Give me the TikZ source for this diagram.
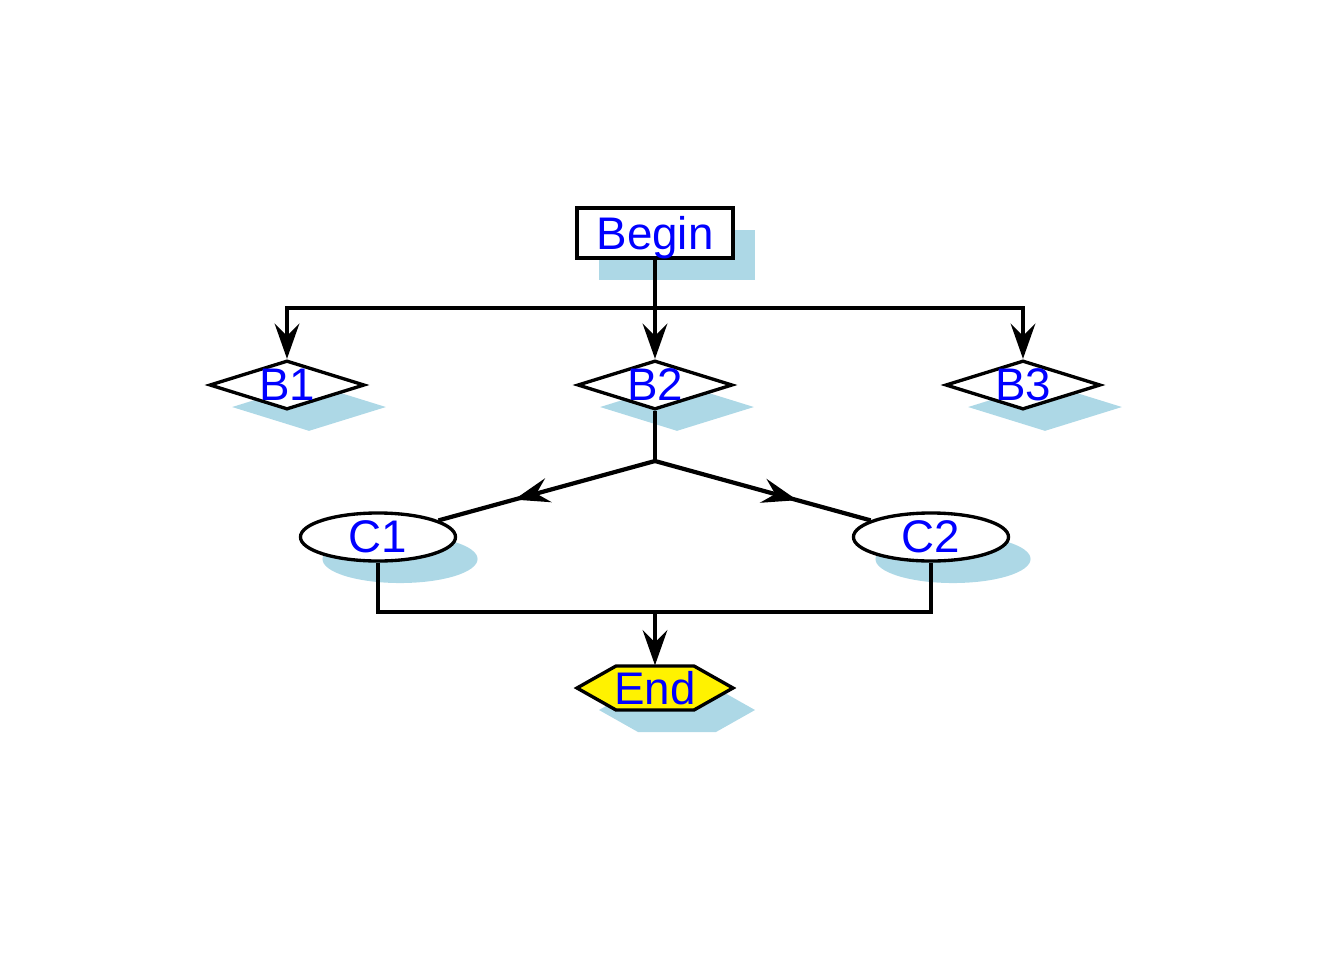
\documentclass[tikz,border=0pt]{standalone}
\usepackage{fontspec}
\newfontfamily\labfont{Liberation Sans}
\usetikzlibrary{shapes.geometric,arrows.meta,shadows,decorations.markings,calc}
\definecolor{shadowblue}{RGB}{173,216,230}
\newcommand\lbl[1]{\makebox[0pt]{\raisebox{-0.5\height}{#1}}}
\begin{document}
\begin{tikzpicture}[x=0.01cm,y=-0.01cm,
  >={Stealth[length=10pt,width=7pt,inset=3.5pt]},
  conn/.style={line width=1.2pt},
  lab/.style={inner sep=0pt, text height=0pt, text depth=0pt, text=blue,
    font=\labfont\fontsize{13}{15}\selectfont},
  base/.style={lab, draw, line width=0.95pt, fill=white,
    drop shadow={shadow xshift=0.22cm, shadow yshift=-0.22cm, fill=shadowblue, opacity=1}},
  boxnode/.style={base, rectangle, minimum width=1.56cm, minimum height=0.50cm},
  decnode/.style={base, diamond, aspect=3.16, minimum width=1.55cm, minimum height=0.49cm},
  ellnode/.style={base, ellipse, minimum width=1.55cm, minimum height=0.48cm},
  midarrow/.style={postaction={decorate,decoration={markings,mark=at position #1 with {\arrow{>}}}}}
]
\useasboundingbox (0,0) rectangle (1344,960);

\node[boxnode] (Begin) at (655,233) {\lbl{Begin}};
\node[decnode] (B1) at (287,385) {\lbl{B1}};
\node[decnode] (B2) at (655,385) {\lbl{B2}};
\node[decnode] (B3) at (1023,385) {\lbl{B3}};
\node[ellnode] (C1) at (378,537) {\lbl{C1}};
\node[ellnode] (C2) at (931,537) {\lbl{C2}};

\coordinate (endc) at (655,688);
\fill[shadowblue] ($(endc)+(-56,22)$) -- ++(39,-22) -- ++(78,0) -- ++(39,22) -- ++(-39,22) -- ++(-78,0) -- cycle;
\filldraw[fill=yellow, line width=0.95pt] ($(endc)+(-78,0)$) -- ++(39,-22) -- ++(78,0) -- ++(39,22) -- ++(-39,22) -- ++(-78,0) -- cycle;
\node[lab, minimum width=1.56cm, minimum height=0.44cm] (End) at (endc) {\lbl{End}};

\coordinate (j1) at (655,308);
\coordinate (j2) at (655,461);
\coordinate (j3) at (655,612);

\draw[conn] (Begin) -- (j1);
\draw[conn,->] (j1) -| (B1);
\draw[conn,->] (j1) -- (B2);
\draw[conn,->] (j1) -| (B3);
\draw[conn] (B2) -- (j2);
\draw[conn, midarrow=0.65] (j2) -- (C1);
\draw[conn, midarrow=0.66] (j2) -- (C2);
\draw[conn] (C1) |- (j3) -| (C2);
\draw[conn,->] (j3) -- (End);
\end{tikzpicture}
\end{document}
